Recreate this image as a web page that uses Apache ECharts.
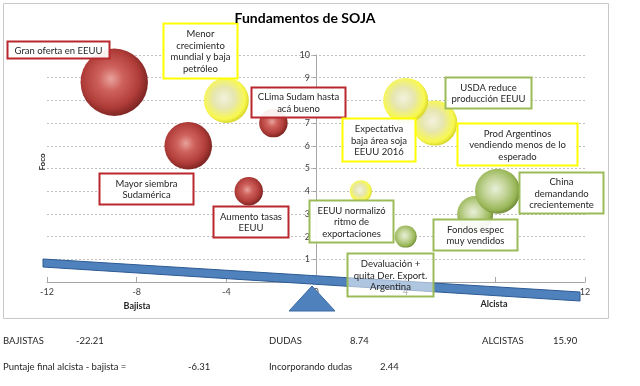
<!DOCTYPE html>
<html><head><meta charset="utf-8">
<script src="https://cdn.jsdelivr.net/npm/echarts@6/dist/echarts.min.js"></script>
<style>html,body{margin:0;padding:0;background:#fff}#c{width:640px;height:386px}</style>
</head><body><div id="c"></div>
<script>
// ---- data ----
const bajistaX = [-9, -5.7, -1.9, -3];
const bajistaY = [8.8, 6, 7, 4];
const bajistaPeso = [56, 28, 10, 10];
const dudaX = [5.3, -4, 4, 2];
const dudaY = [7, 8, 8, 4];
const dudaPeso = [25, 25, 25, 6];
const alcistaX = [7.1, 8.1, 4];
const alcistaY = [3, 4, 2];
const alcistaPeso = [16, 25, 6];
const xTicks = [-12, -8, -4, 0, 4, 8, 12];
const yTicks = [0, 1, 2, 3, 4, 5, 6, 7, 8, 9, 10];
const resumenLabels = ['BAJISTAS', 'DUDAS', 'ALCISTAS'];
const resumenValues = ['-22.21', '8.74', '15.90'];
const finalLabels = ['Puntaje final alcista - bajista =', 'Incorporando dudas'];
const finalValues = ['-6.31', '2.44'];
const notes = [
  'Gran oferta en EEUU',
  'Menor\ncrecimiento\nmundial y baja\npetróleo',
  'CLima Sudam hasta\nacá bueno',
  'Expectativa\nbaja área soja\nEEUU 2016',
  'USDA reduce\nproducción EEUU',
  'Prod Argentinos\nvendiendo menos de lo\nesperado',
  'Mayor siembra\nSudamérica',
  'Aumento tasas\nEEUU',
  'EEUU normalizó\nritmo de\nexportaciones',
  'Devaluación +\nquita Der. Export.\nArgentina',
  'Fondos espec\nmuy vendidos',
  'China\ndemandando\ncrecientemente'
];

// ---- styling / layout ----
const FONT = 'Lato, "Open Sans", sans-serif';
const RED = '#b8282c', YEL = '#ffff00', GRN = '#9bbb59';
const noteBoxes = [
  [7, 41, 102, 17, RED],
  [163, 23, 74, 55, YEL],
  [251, 87, 94, 30, RED],
  [342, 118, 73, 43, YEL],
  [445, 77, 86, 31, GRN],
  [457, 123, 120, 42, YEL],
  [99, 173, 94, 31, RED],
  [213, 206, 75, 31, RED],
  [309, 200, 84, 42, GRN],
  [347, 253, 86, 43, GRN, 0.55],
  [433, 219, 84, 31, GRN],
  [519, 172, 84, 41, GRN]
];

function grad(stops) {
  return {type: 'radial', x: 0.45, y: 0.45, r: 0.6, colorStops: stops.map(c => ({offset: c[0], color: c[1]}))};
}
const redG = grad([[0, '#e8a29c'], [0.3, '#cf625d'], [0.7, '#b03c38'], [1, '#6e1e1c']]);
const yelG = grad([[0, '#f2f2de'], [0.4, '#e6e6b0'], [0.78, '#f8f850'], [1, '#c8c81a']]);
const grnG = grad([[0, '#e8efd8'], [0.4, '#c4d59a'], [0.78, '#98b656'], [1, '#5f7a2c']]);

const toPts = (xs, ys, ws) => xs.map((x, i) => [x, ys[i], ws[i]]);
const sizeFn = v => 9 * Math.sqrt(v[2]);

const graphics = [];
graphics.push({type: 'rect', shape: {x: 3.5, y: 3.5, width: 605, height: 315}, style: {fill: 'none', stroke: '#c8c8c8', lineWidth: 1}, z: 0, silent: true});
graphics.push({type: 'text', x: 305, y: 18, style: {text: 'Fundamentos de SOJA', font: 'bold 14px ' + FONT, fill: '#000', align: 'center', verticalAlign: 'middle'}, z: 20});
graphics.push({type: 'text', x: 42, y: 162, rotation: Math.PI / 2, style: {text: 'Foco', font: 'bold 8px ' + FONT, fill: '#262626', align: 'center', verticalAlign: 'middle'}, z: 20});
graphics.push({type: 'text', x: 137, y: 306, style: {text: 'Bajista', font: 'bold 9px ' + FONT, fill: '#262626', align: 'center', verticalAlign: 'middle'}, z: 20});
graphics.push({type: 'text', x: 494, y: 304, style: {text: 'Alcista', font: 'bold 9px ' + FONT, fill: '#262626', align: 'center', verticalAlign: 'middle'}, z: 20});
// seesaw
graphics.push({type: 'polygon', shape: {points: [[43, 259], [580, 292], [580, 301], [43, 267]]}, style: {fill: '#4f81bd', stroke: '#2c5a92', lineWidth: 1}, z: 10});
graphics.push({type: 'polygon', shape: {points: [[312, 286], [289, 311], [335, 311]]}, style: {fill: '#4f81bd', stroke: '#3a6aa3', lineWidth: 1}, z: 10});
// note boxes
noteBoxes.forEach((b, i) => {
  const op = b[5] !== undefined ? b[5] : 0.92;
  graphics.push({type: 'rect', shape: {x: b[0] + 0.5, y: b[1] + 0.5, width: b[2], height: b[3]}, style: {fill: 'rgba(255,255,255,' + op + ')', stroke: b[4], lineWidth: 2}, z: 12});
  graphics.push({type: 'text', x: b[0] + b[2] / 2 + 0.5, y: b[1] + b[3] / 2 + 1, style: {text: notes[i], font: '9.5px ' + FONT, fill: '#262626', align: 'center', verticalAlign: 'middle', lineHeight: 11.5}, z: 13});
});
// summary text
const sumX = [[3, 76], [269, 350], [482, 553]];
resumenLabels.forEach((t, i) => {
  graphics.push({type: 'text', x: sumX[i][0], y: 341, style: {text: t, font: '9.5px ' + FONT, fill: '#262626', verticalAlign: 'middle'}});
  graphics.push({type: 'text', x: sumX[i][1], y: 341, style: {text: resumenValues[i], font: '9.5px ' + FONT, fill: '#262626', verticalAlign: 'middle'}});
});
const finX = [[3, 188], [269, 380]];
finalLabels.forEach((t, i) => {
  graphics.push({type: 'text', x: finX[i][0], y: 367, style: {text: t, font: '9.5px ' + FONT, fill: '#262626', verticalAlign: 'middle'}});
  graphics.push({type: 'text', x: finX[i][1], y: 367, style: {text: finalValues[i], font: '9.5px ' + FONT, fill: '#262626', verticalAlign: 'middle'}});
});

const chart = echarts.init(document.getElementById('c'), null, {renderer: 'canvas'});
chart.setOption({
  animation: false,
  backgroundColor: '#fff',
  grid: {left: 47, right: 55, top: 55, bottom: 104},
  xAxis: {
    type: 'value', min: xTicks[0], max: xTicks[xTicks.length - 1], interval: 4,
    axisLine: {show: true, onZero: false, lineStyle: {color: '#a6a6a6'}},
    axisTick: {show: true, inside: true, length: 5, lineStyle: {color: '#a6a6a6'}},
    axisLabel: {fontSize: 9, color: '#404040', margin: 6, fontFamily: FONT},
    splitLine: {show: false}
  },
  yAxis: {
    type: 'value', min: yTicks[0], max: yTicks[yTicks.length - 1], interval: 1,
    offset: -269,
    axisLine: {show: true, onZero: false, lineStyle: {color: '#a6a6a6'}},
    axisTick: {show: true, length: 3, lineStyle: {color: '#a6a6a6'}},
    axisLabel: {fontSize: 9, color: '#404040', margin: 6, fontFamily: FONT, formatter: v => v === 0 ? '' : String(v)},
    splitLine: {show: true, lineStyle: {color: '#bfbfbf', type: [2, 2]}}
  },
  series: [
    {type: 'scatter', name: 'Bajista', data: toPts(bajistaX, bajistaY, bajistaPeso), symbolSize: sizeFn, itemStyle: {color: redG, opacity: 1}, z: 3},
    {type: 'scatter', name: 'Dudas', data: toPts(dudaX, dudaY, dudaPeso), symbolSize: sizeFn, itemStyle: {color: yelG, opacity: 1}, z: 3},
    {type: 'scatter', name: 'Alcista', data: toPts(alcistaX, alcistaY, alcistaPeso), symbolSize: sizeFn, itemStyle: {color: grnG, opacity: 1}, z: 3}
  ],
  graphic: graphics
});
</script></body></html>
